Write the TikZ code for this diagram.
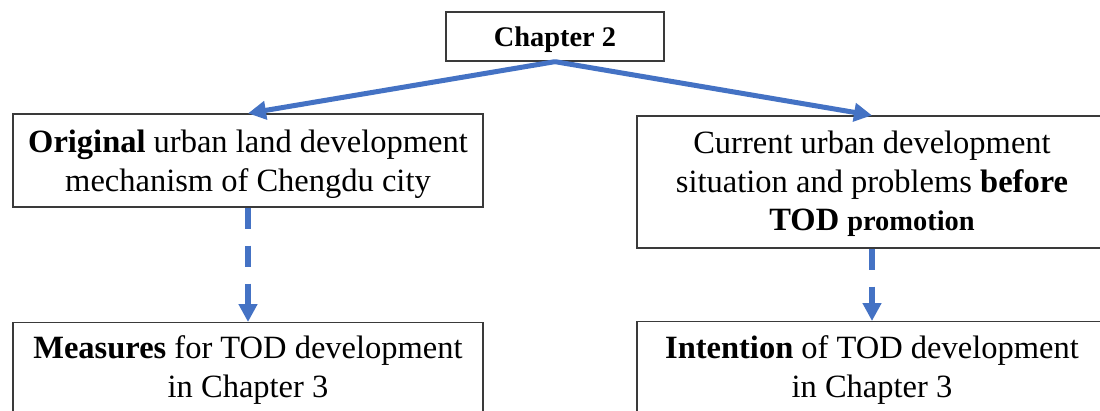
\documentclass[tikz,border=0pt]{standalone}
\usepackage{fontspec}
\setmainfont{Liberation Serif}
\usetikzlibrary{arrows.meta}
\definecolor{linkblue}{HTML}{4472C4}
\definecolor{framegray}{HTML}{3A3A3A}
\tikzset{
  box/.style={rectangle, draw=framegray, line width=1.3pt, minimum width=470pt, inner sep=0pt},
  txt/.style={inner sep=0pt, align=center, anchor=north, font=\fontsize{32.5}{38.5}\selectfont},
  flow/.style={draw=linkblue, line width=5pt, -{Triangle[length=18pt,width=18pt]}},
  dflow/.style={draw=linkblue, line width=6pt, dash pattern=on 21pt off 17pt, -{Triangle[length=18pt,width=18pt]}},
}
\newcommand{\smallbold}[1]{{\fontsize{28.4}{38.5}\selectfont #1}}
\begin{document}
\begin{tikzpicture}[x=1pt,y=-1pt]
  \clip (0,0) rectangle (1100,410);
  \fill[white] (0,0) rectangle (1100,410);

  % frames
  \node[box, minimum width=218pt, minimum height=49pt, text depth=0pt,
        font=\fontsize{28.4}{34}\selectfont\bfseries] (ch2) at (555,36.5) {Chapter 2};
  \node[box, minimum height=93pt] (orig) at (248,160.5) {};
  \node[box, minimum height=132pt] (curr) at (872,182) {};
  \node[box, minimum height=130pt, anchor=north] (meas) at (248,322) {};
  \node[box, minimum height=130pt, anchor=north] (intn) at (872,321) {};

  % box texts
  \node[txt] (orig-t) at ([yshift=-16.8pt]orig.north)
    {\textbf{Original} urban land development\\ mechanism of Chengdu city};
  \node[txt] (curr-t) at ([yshift=-15.8pt]curr.north)
    {Current urban development\\ situation and problems \textbf{before}\\ \textbf{TOD \smallbold{promotion}}};
  \node[txt] (meas-t) at ([yshift=-13.8pt]meas.north)
    {\textbf{Measures} for TOD development\\ in Chapter 3};
  \node[txt] (intn-t) at ([yshift=-14.8pt]intn.north)
    {\textbf{Intention} of TOD development\\ in Chapter 3};

  % connectors
  \draw[flow] (ch2.south) -- (orig.north);
  \draw[flow] (ch2.south) -- (curr.north);
  \draw[dflow] (orig.south) -- (meas.north);
  \draw[dflow] (curr.south) -- (intn.north);
\end{tikzpicture}
\end{document}
